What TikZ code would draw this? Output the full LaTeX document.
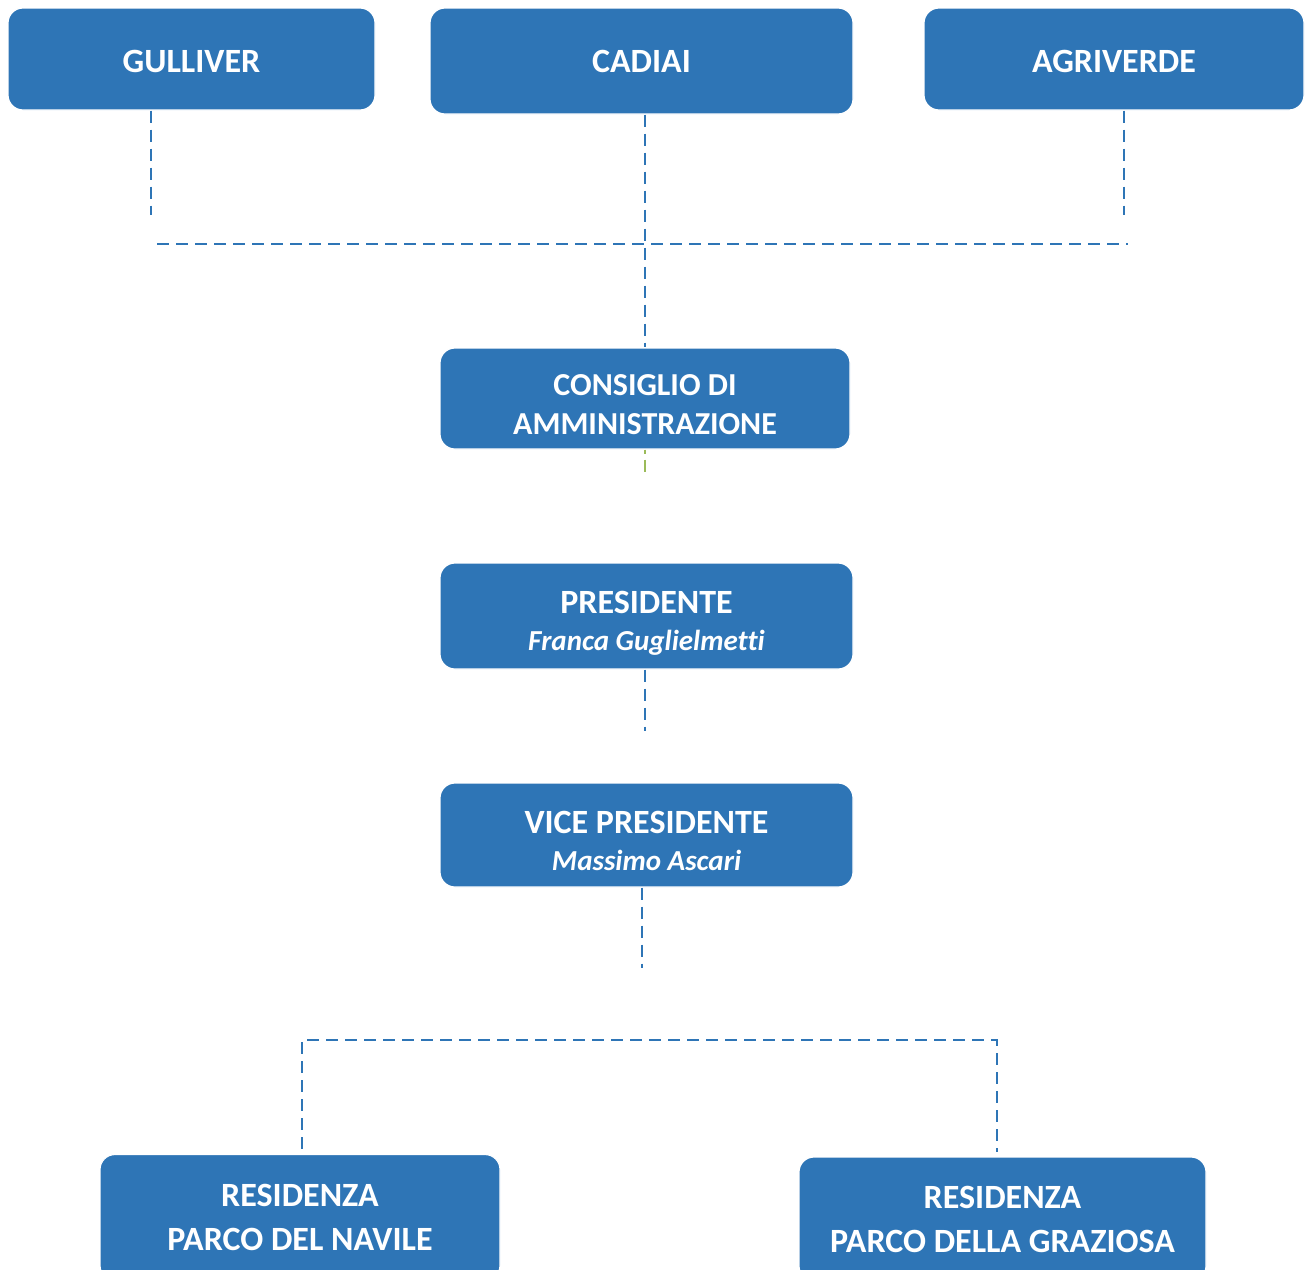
\documentclass[tikz,border=0pt]{standalone}
\usepackage{fontspec}
\setmainfont{Carlito}[Ligatures=NoCommon]
\usepackage{tikz}
\usetikzlibrary{calc}
\definecolor{boxblue}{HTML}{2E75B6}
\definecolor{tickgreen}{HTML}{9BBB59}
\tikzset{box/.style={rectangle, rounded corners=7.5pt, fill=boxblue, draw=white, line width=0.6pt,
  text=white, inner sep=0pt, align=center, font=\bfseries\fontsize{17}{17.5}\selectfont}}
\tikzset{link/.style={draw=boxblue, line width=1.4pt, dash pattern=on 6pt off 3.5pt}}

\begin{document}
\begin{tikzpicture}[x=0.5pt,y=-0.5pt]
        \useasboundingbox (0,0) rectangle (1306,1269);
        % soci
        \node[box, minimum width=183.5pt, minimum height=51pt, text height=14pt] (G) at (191.5,59) {GULLIVER};
        \node[box, minimum width=211.5pt, minimum height=53pt] (C) at (641.5,61) {CADIAI};
        \node[box, minimum width=190pt, minimum height=51pt, text height=14pt] (A) at (1114,59) {AGRIVERDE};
        % organi
        \node[box, minimum width=205pt, minimum height=50.5pt, text height=36.5pt,
          font=\bfseries\fontsize{16}{19.5}\selectfont]
          (CdA) at (645,398.5) {CONSIGLIO DI\\AMMINISTRAZIONE};
        \node[box, minimum width=206.5pt, minimum height=53pt, text height=37pt,
          font=\bfseries\fontsize{17}{18.5}\selectfont] (P) at (646.5,616)
          {PRESIDENTE\\{\fontsize{14.5}{18.5}\selectfont\itshape Franca Guglielmetti}};
        \node[box, minimum width=206.5pt, minimum height=52pt, text height=36pt,
          font=\bfseries\fontsize{17}{18.5}\selectfont] (VP) at (646.5,835)
          {VICE PRESIDENTE\\{\fontsize{14.5}{18.5}\selectfont\itshape Massimo Ascari}};
        % residenze
        \node[box, minimum width=200pt, minimum height=63pt, font=\bfseries\fontsize{17}{22}\selectfont]
          (RN) at (300,1217.5) {RESIDENZA\\PARCO DEL NAVILE};
        \node[box, minimum width=203.5pt, minimum height=62pt, font=\bfseries\fontsize{17}{22}\selectfont]
          (RG) at (1002.5,1219) {RESIDENZA\\PARCO DELLA GRAZIOSA};
        % free ends
        \coordinate (Gend) at (151,215);
        \coordinate (Aend) at (1124,215);
        \coordinate (Hl) at (157,244);
        \coordinate (Hr) at (1128,244);
        \coordinate (CdAend) at (645,472);
        \coordinate (Pend) at (645,731);
        \coordinate (VPend) at (642,968);
        \coordinate (Bl) at (302,1040);
        \coordinate (Br) at (997,1040);
        % connectors
        \draw[link] (G.south -| Gend) -- (Gend);
        \draw[link] (A.south -| Aend) -- (Aend);
        \draw[link] (Hl) -- (Hr);
        \draw[link] (CdA.north |- C.south) -- (CdA.north);
        \draw[link, draw=tickgreen, dash pattern=on 2pt off 3pt on 6.5pt off 3pt] (CdA.south) -- (CdAend);
        \draw[link] (P.south -| Pend) -- (Pend);
        \draw[link] (VP.south -| VPend) -- (VPend);
        \draw[link] (RN.north -| Bl) ++(0,-5) -- (Bl) -- (Br) -- ($(RG.north -| Br)+(0,-4)$);
      \end{tikzpicture}
\end{document}
